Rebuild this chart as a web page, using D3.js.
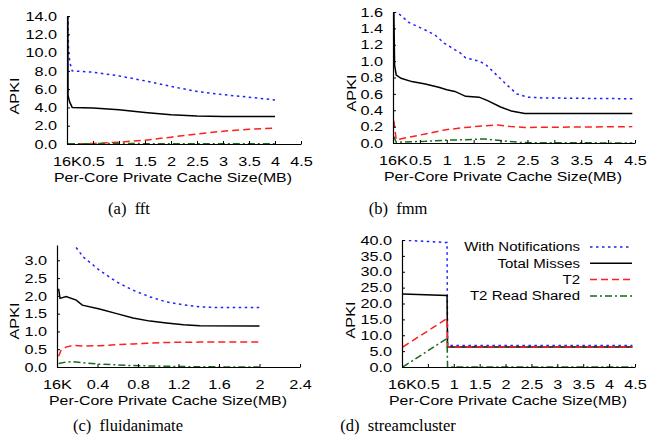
<!DOCTYPE html>
<html>
<head>
<meta charset="utf-8">
<script src="https://cdn.jsdelivr.net/npm/d3@7"></script>
<style>
  body { margin: 0; background: #fff; }
  text { font-family: "Liberation Sans", Arial, sans-serif; }
  text.caption { font-family: "Liberation Serif", "Times New Roman", serif; }
</style>
</head>
<body>
<svg id="chart" width="650" height="447"></svg>
<script>
// ---- data: [cache size in MB, APKI] (16K == 0.016 MB) ----
const fftNotif  = [[0.016,14],[0.03,10],[0.06,8.8],[0.1,8.0],[0.5,7.85],[1.0,7.45],[1.5,6.9],[2.0,6.3],[2.5,5.75],[3.0,5.4],[3.5,5.12],[4.0,4.82]];
const fftTotal  = [[0.016,14],[0.02,5.3],[0.05,4.6],[0.1,4.0],[0.5,3.95],[1.0,3.75],[1.5,3.45],[2.0,3.2],[2.5,3.05],[3.0,3.0],[4.0,3.0]];
const fftT2     = [[0.016,0],[0.5,0.05],[1.0,0.2],[1.5,0.42],[2.0,0.75],[2.5,1.1],[3.0,1.4],[3.5,1.6],[4.0,1.75]];
const fftShared = [[0.016,0.03],[1.0,0.05],[2.0,0.03],[4.0,0.02]];

const fmmNotif  = [[0.016,1.6],[0.07,1.6],[0.3,1.47],[0.6,1.38],[0.78,1.32],[0.95,1.22],[1.25,1.1],[1.35,1.04],[1.6,1.0],[1.72,0.96],[1.85,0.88],[2.1,0.72],[2.3,0.6],[2.5,0.56],[2.8,0.55],[4.45,0.54]];
const fmmTotal  = [[0.016,1.6],[0.03,0.95],[0.06,0.83],[0.15,0.79],[0.35,0.75],[0.6,0.72],[0.85,0.68],[1.0,0.65],[1.15,0.63],[1.35,0.57],[1.6,0.56],[1.75,0.52],[2.0,0.44],[2.2,0.39],[2.45,0.36],[4.45,0.36]];
const fmmT2     = [[0.016,0.27],[0.06,0.04],[0.6,0.11],[0.96,0.16],[1.35,0.19],[1.7,0.21],[1.95,0.22],[2.2,0.2],[2.45,0.19],[4.45,0.2]];
const fmmShared = [[0.016,0.08],[0.06,0.01],[0.6,0.02],[1.0,0.035],[1.35,0.04],[1.7,0.05],[2.0,0.03],[2.4,0.005],[4.45,0.0]];

const fluidNotif  = [[0.016,4.6],[0.125,3.6],[0.26,3.09],[0.42,2.72],[0.59,2.39],[0.75,2.16],[0.92,1.97],[1.08,1.83],[1.25,1.75],[1.41,1.69],[1.58,1.67],[2.0,1.67]];
const fluidTotal  = [[0.016,2.2],[0.03,1.93],[0.09,1.98],[0.19,1.88],[0.25,1.74],[0.42,1.63],[0.59,1.5],[0.75,1.38],[0.92,1.29],[1.08,1.24],[1.25,1.19],[1.41,1.16],[2.0,1.15]];
const fluidT2     = [[0.016,0.3],[0.04,0.47],[0.09,0.56],[0.16,0.61],[0.26,0.59],[0.42,0.6],[0.75,0.65],[1.08,0.69],[1.41,0.7],[2.0,0.7]];
const fluidShared = [[0.016,0.1],[0.09,0.14],[0.16,0.15],[0.26,0.12],[0.42,0.08],[0.75,0.04],[1.08,0.02],[1.41,0.005],[2.0,0]];

const streamNotif  = [[0.016,40],[0.2,39.8],[0.87,39.2],[0.88,6.8],[4.45,6.8]];
const streamTotal  = [[0.016,23],[0.87,22.5],[0.88,6.3],[4.45,6.3]];
const streamT2     = [[0.016,6.3],[0.87,15.3],[0.88,6.3],[4.45,6.3]];
const streamShared = [[0.016,0],[0.87,9.0],[0.88,0],[4.45,0]];

const seriesNames = ["With Notifications", "Total Misses", "T2", "T2 Read Shared"];

const xTicks45 = [0, 0.5, 1, 1.5, 2, 2.5, 3, 3.5, 4, 4.5];
const xTicks24 = [0, 0.4, 0.8, 1.2, 1.6, 2, 2.4];
const yTicksFft = [0, 2, 4, 6, 8, 10, 12, 14];
const yTicksFmm = [0, 0.2, 0.4, 0.6, 0.8, 1.0, 1.2, 1.4, 1.6];
const yTicksFluid = [0, 0.5, 1.0, 1.5, 2.0, 2.5, 3.0];
const yTicksStream = [0, 5, 10, 15, 20, 25, 30, 35, 40];

const captions = ["(a)\u00a0\u00a0fft", "(b)\u00a0\u00a0fmm", "(c)\u00a0\u00a0fluidanimate", "(d)\u00a0\u00a0streamcluster"];

// line styles, same order as seriesNames
const styles = [
  { color: "#1f1fff", dash: "2.5,3.5" },
  { color: "#000000", dash: null },
  { color: "#ff1f1f", dash: "7,4" },
  { color: "#1a6a1a", dash: "7,3,2,3" }
];

const SX = 1.25; // figure text is stretched horizontally
const svg = d3.select("#chart");

function stretchedText(g, x, y, str, size, anchor) {
  return g.append("text")
    .attr("transform", `translate(${x},${y}) scale(${SX},1)`)
    .attr("text-anchor", anchor || "middle")
    .attr("font-size", size)
    .text(str);
}

function drawPanel(p, idx) {
  const x = d3.scaleLinear().domain([0, p.xMax]).range([p.left, p.right]);
  const y = d3.scaleLinear().domain([0, p.yMax]).range([p.bottom, p.top]);
  const g = svg.append("g");

  g.append("clipPath").attr("id", "clip" + idx)
    .append("rect")
    .attr("x", p.left).attr("y", p.top)
    .attr("width", p.right - p.left).attr("height", p.bottom - p.top);

  const line = d3.line().x(d => x(d[0])).y(d => y(d[1]));
  p.series.forEach(function (s, i) {
    g.append("path")
      .datum(s)
      .attr("clip-path", `url(#clip${idx})`)
      .attr("fill", "none")
      .attr("stroke", styles[i].color)
      .attr("stroke-width", 1.5)
      .attr("stroke-dasharray", styles[i].dash)
      .attr("d", line);
  });

  // axes, gnuplot style: ticks pointing inward
  const yAxis = g.append("g")
    .attr("transform", `translate(${p.left},0)`)
    .call(d3.axisLeft(y).tickValues(p.yTicks).tickFormat(p.yFormat)
      .tickSizeInner(-3).tickSizeOuter(0));
  const xAxis = g.append("g")
    .attr("transform", `translate(0,${p.bottom})`)
    .call(d3.axisBottom(x).tickValues(p.xTicks)
      .tickFormat(d => d === 0 ? "16K" : d3.format("~g")(d))
      .tickSizeInner(-3).tickSizeOuter(0).tickPadding(13));

  [yAxis, xAxis].forEach(function (a) {
    a.attr("font-size", 13).attr("font-family", null);
    a.select(".domain").attr("stroke-width", 1.2);
    a.selectAll("text").attr("fill", "#000").attr("transform", `scale(${SX},1)`);
  });
  yAxis.selectAll("text").attr("x", -10 / SX);

  // axis titles
  stretchedText(g, p.xLabelX, p.bottom + 38, "Per-Core Private Cache Size(MB)", 12.7);
  g.append("text")
    .attr("transform", `translate(${p.yLabelX},${p.yLabelY}) rotate(-90) scale(${SX},1)`)
    .attr("text-anchor", "middle")
    .attr("dy", "0.35em")
    .attr("font-size", 13)
    .text("APKI");

  // caption
  g.append("text")
    .attr("class", "caption")
    .attr("x", p.capX).attr("y", p.capY)
    .attr("text-anchor", "middle")
    .attr("font-size", 16.5)
    .text(captions[idx]);

  if (p.legend) {
    seriesNames.forEach(function (name, i) {
      const ly = p.legend.y + i * 16.3;
      stretchedText(g, p.legend.x, ly, name, 12, "end").attr("dy", "0.35em");
      g.append("line")
        .attr("x1", p.legend.x + 10).attr("x2", p.legend.x + 52)
        .attr("y1", ly).attr("y2", ly)
        .attr("stroke", styles[i].color)
        .attr("stroke-width", 1.5)
        .attr("stroke-dasharray", styles[i].dash);
    });
  }
}

const panels = [
  { series: [fftNotif, fftTotal, fftT2, fftShared], xMax: 4.5, yMax: 14,
    left: 67, right: 301, top: 16, bottom: 144,
    xTicks: xTicks45, yTicks: yTicksFft, yFormat: d3.format(".1f"),
    xLabelX: 173, yLabelX: 14, yLabelY: 96, capX: 129, capY: 214 },
  { series: [fmmNotif, fmmTotal, fmmT2, fmmShared], xMax: 4.5, yMax: 1.6,
    left: 393, right: 635, top: 12, bottom: 143,
    xTicks: xTicks45, yTicks: yTicksFmm, yFormat: d3.format(".1f"),
    xLabelX: 503, yLabelX: 351, yLabelY: 93, capX: 398, capY: 214 },
  { series: [fluidNotif, fluidTotal, fluidT2, fluidShared], xMax: 2.4, yMax: 3.43,
    left: 57, right: 300, top: 245, bottom: 367,
    xTicks: xTicks24, yTicks: yTicksFluid, yFormat: d3.format(".1f"),
    xLabelX: 168, yLabelX: 14, yLabelY: 321, capX: 128, capY: 431 },
  { series: [streamNotif, streamTotal, streamT2, streamShared], xMax: 4.5, yMax: 40,
    left: 402, right: 635, top: 240, bottom: 367,
    xTicks: xTicks45, yTicks: yTicksStream, yFormat: d3.format(".1f"),
    xLabelX: 508, yLabelX: 350, yLabelY: 320, capX: 398, capY: 431,
    legend: { x: 580, y: 247 } }
];

panels.forEach(drawPanel);
</script>
</body>
</html>
